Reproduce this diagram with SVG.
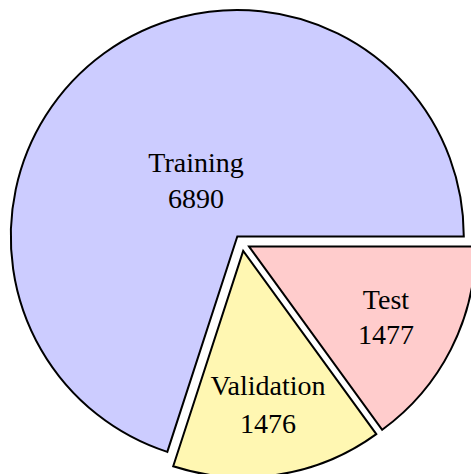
<svg xmlns="http://www.w3.org/2000/svg" width="471" height="474" viewBox="0 0 471 474">
<style>
.s{stroke:#000;stroke-width:2;stroke-linejoin:miter}
.t{font-family:"Liberation Serif","Times New Roman",serif;font-size:28px;text-anchor:middle;fill:#000}
</style>
<rect width="471" height="474" fill="#fff"/>
<g id="training">
<path class="s" fill="#ccccff" d="M237.3,236.5 L463.8,236.5 A226.5,226.5 0 1 0 167.3,451.9 Z"/>
<text class="t" x="196" y="172">Training</text>
<text class="t" x="196" y="208">6890</text>
</g>
<g id="validation">
<path class="s" fill="#fff7b2" d="M243.2,250.9 L173.2,466.3 A226.5,226.5 0 0 0 376.3,434.1 Z"/>
<text class="t" x="268" y="395">Validation</text>
<text class="t" x="268" y="433">1476</text>
</g>
<g id="test">
<path class="s" fill="#ffcccc" d="M249.1,246.6 L382.2,429.8 A226.5,226.5 0 0 0 475.6,246.6 Z"/>
<text class="t" x="386" y="309">Test</text>
<text class="t" x="386" y="344">1477</text>
</g>
<g id="connectors"/>
</svg>
